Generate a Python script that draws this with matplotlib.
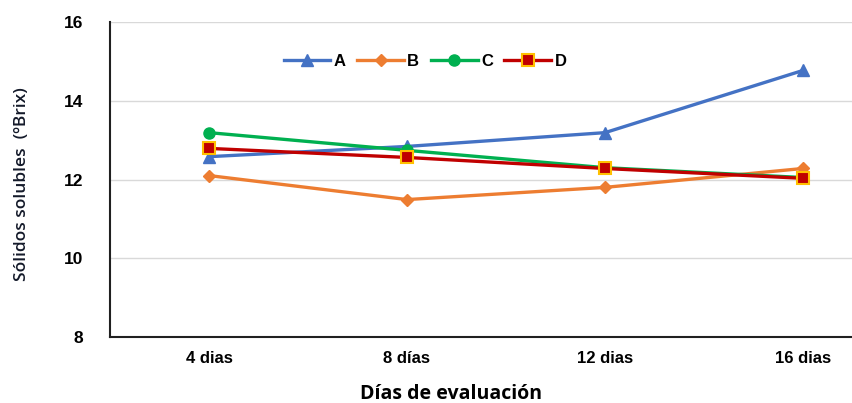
import matplotlib
matplotlib.use("Agg")
import matplotlib.pyplot as plt

categories = ["4 dias", "8 días", "12 dias", "16 dias"]
serie_a = [12.58, 12.84, 13.19, 14.77]
serie_b = [12.10, 11.49, 11.80, 12.28]
serie_c = [13.19, 12.74, 12.30, 12.05]
serie_d = [12.79, 12.56, 12.28, 12.03]
y_ticks = [8, 10, 12, 14, 16]

fig = plt.figure(figsize=(8.53, 4.03), dpi=100)
ax = fig.add_axes([110 / 853, 1 - 337 / 403, 792 / 853, 315 / 403])

x = list(range(len(categories)))
ax.plot(x, serie_a, color="#4472C4", lw=2.4, marker="^", ms=8, label="A", zorder=3)
ax.plot(x, serie_b, color="#ED7D31", lw=2.4, marker="D", ms=6, label="B", zorder=3)
ax.plot(x, serie_c, color="#00B050", lw=2.4, marker="o", ms=8, label="C", zorder=3)
ax.plot(x, serie_d, color="#C00000", lw=2.4, marker="s", ms=8, mfc="#C00000",
        mec="#FFC000", mew=1.5, label="D", zorder=4)

ax.set_xlim(-0.5, len(categories) - 0.5)
ax.set_ylim(8, 16)
ax.set_yticks(y_ticks)
ax.set_xticks(x)
ax.set_xticklabels(categories)
for lab in ax.get_xticklabels():
    lab.set_fontfamily("Liberation Sans")
    lab.set_fontweight("bold")
    lab.set_fontsize(12)
for lab in ax.get_yticklabels():
    lab.set_fontfamily("Liberation Sans")
    lab.set_fontweight("bold")
    lab.set_fontsize(12.5)
ax.tick_params(axis="both", length=0)
ax.tick_params(axis="x", pad=10)
ax.tick_params(axis="y", pad=19)

ax.grid(axis="y", color="#D9D9D9", lw=1)
ax.set_axisbelow(True)
for side in ("top", "right"):
    ax.spines[side].set_visible(False)
ax.spines["left"].set_color("#202020")
ax.spines["left"].set_linewidth(1.5)
ax.spines["bottom"].set_color("#202020")
ax.spines["bottom"].set_linewidth(1.5)

fig.text(22 / 853, 1 - 184 / 403, "Sólidos solubles  (ºBrix)", family="Open Sans",
         fontweight="semibold", fontsize=12.5, color="#141a2a",
         rotation=90, ha="center", va="center")
fig.text(451 / 853, 1 - 394 / 403, "Días de evaluación", family="Open Sans",
         fontweight="bold", fontsize=14, ha="center", va="center")

leg = ax.legend(loc="center", bbox_to_anchor=(425 / 853, 1 - 61 / 403),
                bbox_transform=fig.transFigure, ncol=4, frameon=False,
                prop={"family": "Liberation Sans", "weight": "bold", "size": 12},
                handlelength=2.8, columnspacing=0.7, handletextpad=0.2)

fig.savefig("out.png", dpi=100)
